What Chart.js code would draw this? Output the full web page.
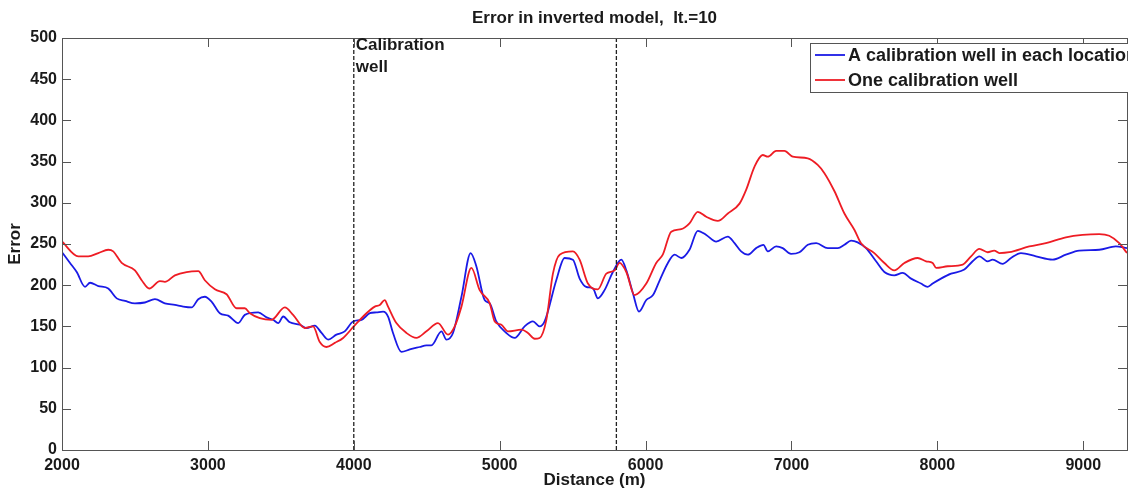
<!DOCTYPE html>
<html>
<head>
<meta charset="utf-8">
<title>Error in inverted model</title>
<script src="https://cdn.jsdelivr.net/npm/chart.js@4.4.1/dist/chart.umd.min.js"></script>
<style>
  html, body { margin: 0; padding: 0; background: #fff; }
  #wrap { width: 1128px; height: 492px; position: relative; }
</style>
</head>
<body>
<div id="wrap"><canvas id="error-canvas"></canvas></div>
<script>
// values
var blueDist = [2000, 2055, 2101, 2158, 2192, 2249, 2317, 2375, 2432, 2500,
    2568, 2637, 2705, 2774, 2831, 2888, 2934, 2979, 3025, 3082,
    3139, 3208, 3253, 3345, 3402, 3447, 3482, 3516, 3562, 3630,
    3676, 3733, 3779, 3824, 3881, 3938, 3995, 4053, 4110, 4155,
    4201, 4235, 4269, 4327, 4384, 4452, 4498, 4532, 4601, 4635,
    4680, 4738, 4801, 4840, 4897, 4932, 4977, 5046, 5103, 5171,
    5228, 5274, 5308, 5388, 5445, 5502, 5548, 5593, 5640, 5673,
    5719, 5776, 5834, 5868, 5914, 5955, 6005, 6051, 6097, 6153,
    6199, 6245, 6301, 6358, 6416, 6484, 6564, 6610, 6655, 6701,
    6758, 6808, 6838, 6895, 6940, 6997, 7055, 7112, 7170, 7249,
    7318, 7363, 7409, 7454, 7511, 7580, 7637, 7705, 7762, 7820,
    7888, 7934, 7968, 8025, 8094, 8185, 8242, 8288, 8345, 8379,
    8447, 8505, 8573, 8676, 8789, 8881, 8972, 9110, 9223, 9300];
var blueErr = [240, 227, 216, 198, 203, 199, 196, 184, 181, 178,
    179, 183, 178, 176, 174, 173, 183, 186, 180, 166,
    163, 154, 164, 167, 161, 158, 154, 162, 155, 152,
    148, 151, 142, 134, 140, 144, 156, 158, 166, 167,
    168, 162, 142, 119, 122, 125, 127, 127, 144, 134,
    142, 186, 239, 223, 182, 178, 156, 142, 136, 150,
    156, 150, 156, 206, 233, 231, 208, 198, 196, 184,
    194, 216, 231, 218, 190, 168, 182, 188, 206, 227,
    237, 233, 243, 266, 261, 253, 259, 251, 241, 237,
    245, 249, 241, 247, 245, 238, 240, 249, 251, 245,
    245, 249, 254, 252, 245, 229, 216, 212, 215, 208,
    202, 198, 202, 208, 214, 219, 229, 235, 229, 231,
    226, 233, 239, 235, 231, 237, 242, 243, 247, 245];

var redDist = [2000, 2112, 2180, 2249, 2317, 2351, 2409, 2500, 2546, 2598,
    2671, 2705, 2774, 2854, 2934, 2979, 3048, 3128, 3197, 3253,
    3288, 3356, 3436, 3527, 3584, 3664, 3721, 3767, 3813, 3870,
    3927, 3995, 4087, 4144, 4178, 4212, 4235, 4292, 4361, 4429,
    4498, 4577, 4646, 4692, 4738, 4806, 4863, 4932, 4966, 5012,
    5057, 5149, 5194, 5240, 5274, 5320, 5365, 5411, 5502, 5548,
    5605, 5673, 5731, 5788, 5822, 5868, 5925, 6005, 6073, 6118,
    6176, 6245, 6301, 6358, 6416, 6495, 6564, 6644, 6690, 6747,
    6803, 6838, 6895, 6952, 7009, 7112, 7180, 7226, 7295, 7363,
    7432, 7477, 7568, 7637, 7705, 7774, 7865, 7923, 7968, 7992,
    8071, 8174, 8231, 8288, 8345, 8390, 8425, 8493, 8630, 8744,
    8881, 8995, 9110, 9178, 9247, 9300];
var redErr = [253, 235, 235, 239, 243, 241, 227, 218, 206, 196,
    205, 204, 212, 216, 217, 206, 195, 189, 172, 172,
    166, 160, 158, 173, 164, 148, 150, 131, 125, 130,
    136, 149, 166, 174, 176, 182, 174, 154, 142, 136,
    144, 154, 140, 150, 174, 221, 194, 178, 156, 152,
    144, 146, 142, 135, 136, 158, 214, 237, 241, 231,
    202, 195, 214, 218, 227, 216, 188, 202, 227, 237,
    265, 268, 275, 289, 283, 278, 287, 299, 316, 344,
    358, 356, 363, 363, 356, 354, 346, 336, 314, 287,
    267, 251, 239, 227, 218, 227, 233, 229, 227, 221,
    223, 225, 235, 244, 240, 242, 239, 240, 247, 251,
    258, 261, 262, 260, 251, 239];

var wellDist = [4000, 5800];
var xTicks = [2000, 3000, 4000, 5000, 6000, 7000, 8000, 9000];
var yTicks = [0, 50, 100, 150, 200, 250, 300, 350, 400, 450, 500];

var seriesNames = ['A calibration well in each location', 'One calibration well'];
var seriesColors = ['#1a1ae6', '#ee1c24'];
var axisColor = '#555555';
var textColor = '#1a1a1a';
var fontFamily = '"Liberation Sans", Arial, sans-serif';

function toPoints(xs, ys) {
    return xs.map(function(x, i) { return {x: x, y: ys[i]}; });
}

var datasets = [
    {
        label: seriesNames[1],
        data: toPoints(redDist, redErr),
        borderColor: seriesColors[1],
        borderWidth: 1.8,
        pointRadius: 0,
        cubicInterpolationMode: 'monotone',
        order: 1
    },
    {
        label: seriesNames[0],
        data: toPoints(blueDist, blueErr),
        borderColor: seriesColors[0],
        borderWidth: 1.8,
        pointRadius: 0,
        cubicInterpolationMode: 'monotone',
        order: 2
    }
];
wellDist.forEach(function(d) {
    datasets.push({
        label: 'well ' + d,
        data: [{x: d, y: 0}, {x: d, y: 500}],
        borderColor: '#222',
        borderWidth: 1.3,
        borderDash: [4, 2],
        pointRadius: 0,
        order: 0
    });
});

// box, inward ticks, title, legend, well label (matlab look)
var matlabDecor = {
    id: 'matlabDecor',
    afterDatasetsDraw: function(chart) {
        var ctx = chart.ctx;
        var a = chart.chartArea;
        var xs = chart.scales.x;
        var ys = chart.scales.y;
        var tickLen = 9;
        ctx.save();

        ctx.strokeStyle = axisColor;
        ctx.lineWidth = 1;
        ctx.strokeRect(Math.round(a.left) + 0.5, Math.round(a.top) + 0.5,
            Math.round(a.right - a.left), Math.round(a.bottom - a.top));
        ctx.beginPath();
        xTicks.forEach(function(v) {
            var px = Math.round(xs.getPixelForValue(v)) + 0.5;
            ctx.moveTo(px, a.bottom); ctx.lineTo(px, a.bottom - tickLen);
            ctx.moveTo(px, a.top); ctx.lineTo(px, a.top + tickLen);
        });
        yTicks.forEach(function(v) {
            var py = Math.round(ys.getPixelForValue(v)) + 0.5;
            ctx.moveTo(a.left, py); ctx.lineTo(a.left + tickLen, py);
            ctx.moveTo(a.right, py); ctx.lineTo(a.right - tickLen, py);
        });
        ctx.stroke();

        ctx.fillStyle = textColor;
        ctx.font = 'bold 17px ' + fontFamily;
        ctx.textAlign = 'center';
        ctx.textBaseline = 'middle';
        ctx.fillText('Error in inverted model,  It.=10', (a.left + a.right) / 2, 18);

        ctx.textAlign = 'left';
        var wx = xs.getPixelForValue(wellDist[0]) + 2;
        ctx.fillText('Calibration', wx, 45);
        ctx.fillText('well', wx, 67);

        // legend box
        var lx = 810, ly = 43;
        ctx.fillStyle = '#fff';
        ctx.fillRect(lx, ly, 400, 49);
        ctx.strokeStyle = axisColor;
        ctx.strokeRect(lx + 0.5, ly + 0.5, 400, 49);
        ctx.font = 'bold 18px ' + fontFamily;
        [0, 1].forEach(function(i) {
            var yy = ly + 12 + i * 25;
            ctx.strokeStyle = seriesColors[i];
            ctx.lineWidth = 1.8;
            ctx.beginPath();
            ctx.moveTo(lx + 5, yy); ctx.lineTo(lx + 35, yy);
            ctx.stroke();
            ctx.fillStyle = textColor;
            ctx.fillText(seriesNames[i], lx + 38, yy + 1);
        });
        ctx.restore();
    }
};

Chart.defaults.font.family = fontFamily;

var errorCanvas = document.getElementById('error-canvas').getContext('2d');

var errorChart = new Chart(errorCanvas, {
    type: 'line',
    data: { datasets: datasets },
    options: {
        responsive: true,
        maintainAspectRatio: false,
        animation: false,
        devicePixelRatio: 1,
        layout: { padding: { top: 38, right: 1, left: 0, bottom: 0 } },
        scales: {
            x: {
                type: 'linear',
                min: 2000,
                max: 9300,
                afterBuildTicks: function(scale) {
                    scale.ticks = xTicks.map(function(v) { return {value: v}; });
                },
                afterFit: function(scale) { scale.height = 42; },
                grid: { display: false, drawTicks: false },
                border: { display: false },
                ticks: {
                    padding: 6,
                    maxRotation: 0,
                    autoSkip: false,
                    color: textColor,
                    font: { size: 16, weight: 'bold' },
                    callback: function(v) { return String(v); }
                },
                title: {
                    display: true,
                    text: 'Distance (m)',
                    color: textColor,
                    font: { size: 17, weight: 'bold' },
                    padding: { top: 0, bottom: 1 }
                }
            },
            y: {
                min: 0,
                max: 500,
                afterBuildTicks: function(scale) {
                    scale.ticks = yTicks.map(function(v) { return {value: v}; });
                },
                afterFit: function(scale) { scale.width = 62; },
                grid: { display: false, drawTicks: false },
                border: { display: false },
                ticks: {
                    padding: 5,
                    autoSkip: false,
                    color: textColor,
                    font: { size: 16, weight: 'bold' },
                    callback: function(v) { return String(v); }
                },
                title: {
                    display: true,
                    text: 'Error',
                    color: textColor,
                    font: { size: 17, weight: 'bold' },
                    padding: { top: 5, bottom: 0 }
                }
            }
        },
        plugins: {
            legend: { display: false },
            title: { display: false },
            tooltip: { enabled: false }
        }
    },
    plugins: [matlabDecor]
});
</script>
</body>
</html>
